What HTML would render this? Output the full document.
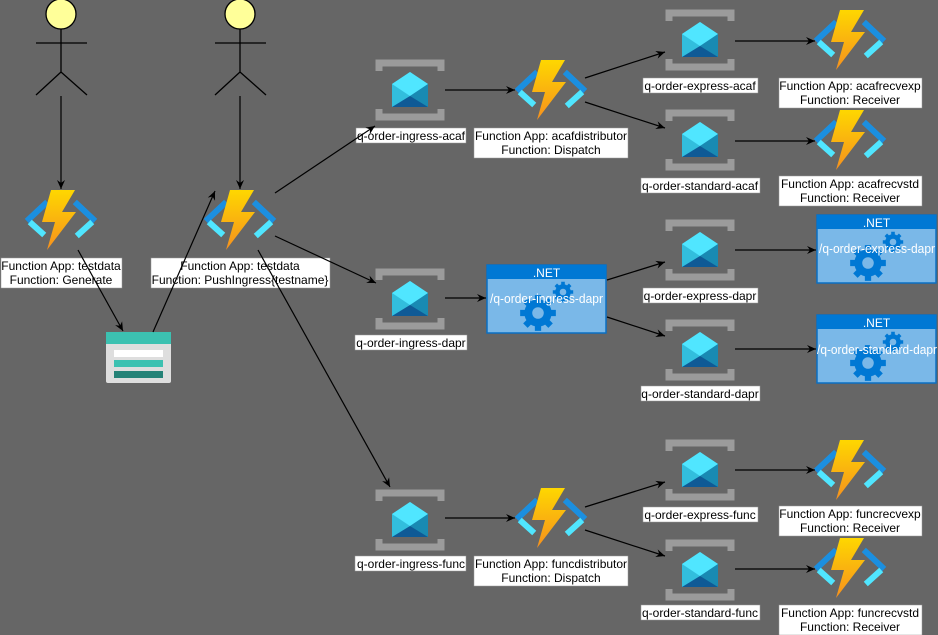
<!DOCTYPE html>
<html><head><meta charset="utf-8"><style>
html,body{margin:0;padding:0;background:#666666;}
svg{display:block;}
text{font-family:"Liberation Sans",sans-serif;font-size:12px;fill:#000;}
</style></head><body>
<svg width="938" height="635" viewBox="0 0 938 635" xmlns="http://www.w3.org/2000/svg">
<defs>
<linearGradient id="bolt" x1="0" y1="0" x2="0" y2="1">
<stop offset="0" stop-color="#fed700"/><stop offset="1" stop-color="#f6901e"/></linearGradient>
<marker id="ar" markerWidth="10" markerHeight="10" refX="9" refY="5" orient="auto" markerUnits="userSpaceOnUse">
<path d="M0,1 L9,5 L0,9 L3,5 Z" fill="#000"/></marker>
<g id="fn">
<path d="M-16,-16 L-32,-1" stroke="#1b8fe0" stroke-width="6" stroke-linecap="square"/>
<path d="M-29,4 L-19,13" stroke="#50e6ff" stroke-width="6" stroke-linecap="square"/>
<path d="M16,-16 L32,-1" stroke="#1b8fe0" stroke-width="6" stroke-linecap="square"/>
<path d="M29,4 L18,14" stroke="#50e6ff" stroke-width="6" stroke-linecap="square"/>
<path d="M-10,-30 L14,-30 L1,-8 L15,-8 L-14,30 L-6,2 L-19,2 Z" fill="url(#bolt)"/>
</g>
<g id="q">
<path d="M-31,-19 L-31,-27 L31,-27 L31,-19" fill="none" stroke="#9b9b9b" stroke-width="7"/>
<path d="M-31,19 L-31,27 L31,27 L31,19" fill="none" stroke="#9b9b9b" stroke-width="7"/>
<path d="M-18,-6 L0,-18 L18,-6 L18,17 L-18,17 Z" fill="#32bedd"/>
<path d="M-18,-6 L0,-18 L18,-6 L0,6 Z" fill="#50e6ff"/>
<path d="M0,6 L18,-6 L18,17 L0,17 Z" fill="#198ab3"/>
<path d="M-18,17 L0,6 L18,17 Z" fill="#0f5a96"/>
</g>
<g id="gear">
<circle r="13" fill="#0078d4"/>
<g stroke="#0078d4" stroke-width="6">
<path d="M0,-17 L0,17 M-17,0 L17,0 M-12,-12 L12,12 M-12,12 L12,-12"/></g>
<circle r="5.5" fill="#7ab8e8"/>
</g>
<g id="net">
<rect x="0" y="0" width="119" height="68" fill="#7ab8e8" stroke="#0a6fc2" stroke-width="1.5"/>
<rect x="0" y="0" width="119" height="14" fill="#0078d4"/>
<g transform="translate(51,48) scale(1.05)"><use href="#gear"/></g>
<g transform="translate(76,27) scale(0.6)"><use href="#gear"/></g>
<text x="59.5" y="12" text-anchor="middle" style="fill:#fff">.NET</text>
</g>
</defs>

<g stroke="#000" stroke-width="1.3" fill="none">
<circle cx="61" cy="14" r="15" fill="#ffff99"/>
<path d="M61,29 L61,72 M36,43 L87,43 M36,95 L61,72 L87,95"/>
<circle cx="240" cy="14" r="15" fill="#ffff99"/>
<path d="M240,29 L240,72 M215,43 L266,43 M215,95 L240,72 L266,95"/>
</g>

<use href="#fn" x="61" y="220"/>
<use href="#fn" x="240" y="220"/>
<use href="#fn" x="551" y="90"/>
<use href="#fn" x="551" y="518"/>
<use href="#fn" x="850" y="40"/>
<use href="#fn" x="850" y="140"/>
<use href="#fn" x="850" y="470"/>
<use href="#fn" x="850" y="568"/>

<use href="#q" x="410" y="90"/>
<use href="#q" x="410" y="299"/>
<use href="#q" x="410" y="520"/>
<use href="#q" x="700" y="40"/>
<use href="#q" x="700" y="140"/>
<use href="#q" x="700" y="250"/>
<use href="#q" x="700" y="350"/>
<use href="#q" x="700" y="470"/>
<use href="#q" x="700" y="570"/>

<rect x="106" y="332" width="65" height="51" rx="2" fill="#dedede"/>
<rect x="106" y="332" width="65" height="12" fill="#3cc1b1"/>
<rect x="114" y="350" width="49" height="7" fill="#fff"/>
<rect x="114" y="360" width="49" height="7" fill="#3cc1b1"/>
<rect x="114" y="371" width="49" height="7" fill="#258277"/>

<use href="#net" x="487" y="265"/>
<use href="#net" x="817" y="215"/>
<use href="#net" x="817" y="315"/>
<text x="490" y="303" textLength="113" lengthAdjust="spacingAndGlyphs" style="fill:#fff;font-size:13px">/q-order-ingress-dapr</text>
<text x="819" y="253" textLength="116" lengthAdjust="spacingAndGlyphs" style="fill:#fff;font-size:13px">/q-order-express-dapr</text>
<text x="817" y="354" textLength="120" lengthAdjust="spacingAndGlyphs" style="fill:#fff;font-size:13px">/q-order-standard-dapr</text>

<g fill="#fff" stroke="#999" stroke-width="0.5">
<rect x="1" y="258" width="121" height="30"/>
<rect x="151" y="258" width="179" height="30"/>
<rect x="356" y="128" width="110" height="15"/>
<rect x="474" y="128" width="154" height="30"/>
<rect x="355" y="335" width="112" height="15"/>
<rect x="355" y="556" width="111" height="15"/>
<rect x="474" y="556" width="154" height="30"/>
<rect x="643" y="78" width="115" height="15"/>
<rect x="641" y="178" width="119" height="15"/>
<rect x="643" y="288" width="115" height="15"/>
<rect x="641" y="386" width="119" height="15"/>
<rect x="643" y="507" width="115" height="15"/>
<rect x="641" y="605" width="119" height="15"/>
<rect x="779" y="78" width="143" height="30"/>
<rect x="779" y="176" width="143" height="30"/>
<rect x="779" y="506" width="143" height="30"/>
<rect x="779" y="605" width="143" height="30"/>
</g>
<g text-anchor="middle">
<text x="61" y="270">Function App: testdata</text><text x="61" y="284">Function: Generate</text>
<text x="240" y="270">Function App: testdata</text><text x="240" y="284">Function: PushIngress{testname}</text>
<text x="411" y="140">q-order-ingress-acaf</text>
<text x="551" y="140">Function App: acafdistributor</text><text x="551" y="154">Function: Dispatch</text>
<text x="411" y="347">q-order-ingress-dapr</text>
<text x="411" y="568">q-order-ingress-func</text>
<text x="551" y="568">Function App: funcdistributor</text><text x="551" y="582">Function: Dispatch</text>
<text x="700" y="90">q-order-express-acaf</text>
<text x="700" y="190">q-order-standard-acaf</text>
<text x="700" y="300">q-order-express-dapr</text>
<text x="700" y="398">q-order-standard-dapr</text>
<text x="700" y="519">q-order-express-func</text>
<text x="700" y="617">q-order-standard-func</text>
<text x="850" y="90">Function App: acafrecvexp</text><text x="850" y="104">Function: Receiver</text>
<text x="850" y="188">Function App: acafrecvstd</text><text x="850" y="202">Function: Receiver</text>
<text x="850" y="518">Function App: funcrecvexp</text><text x="850" y="532">Function: Receiver</text>
<text x="850" y="617">Function App: funcrecvstd</text><text x="850" y="631">Function: Receiver</text>
</g>

<g stroke="#000" stroke-width="1.2" fill="none" marker-end="url(#ar)">
<path d="M61,96 L61,189"/>
<path d="M240,96 L240,189"/>
<path d="M78,250 L123,331"/>
<path d="M153,332 L215,191"/>
<path d="M275,193 L375,126"/>
<path d="M275,236 L376,283"/>
<path d="M258,250 L390,487"/>
<path d="M445,90 L515,90"/>
<path d="M585,78 L665,52"/>
<path d="M585,102 L665,128"/>
<path d="M735,41 L815,41"/>
<path d="M735,141 L815,141"/>
<path d="M445,298 L486,298"/>
<path d="M607,280 L665,262"/>
<path d="M607,317 L665,336"/>
<path d="M735,250 L816,250"/>
<path d="M735,349 L816,349"/>
<path d="M445,518 L515,518"/>
<path d="M585,507 L665,482"/>
<path d="M585,530 L665,556"/>
<path d="M735,470 L815,470"/>
<path d="M735,569 L815,569"/>
</g>
</svg>
</body></html>
